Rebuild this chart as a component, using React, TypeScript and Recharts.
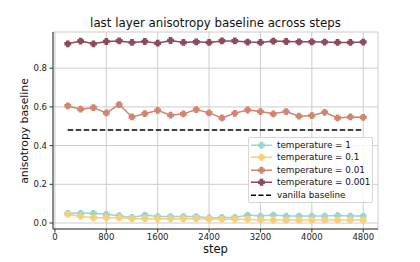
import React from "react"
import { CartesianGrid, Line, LineChart, XAxis, YAxis } from "recharts"

const steps = [
  200, 400, 600, 800, 1000, 1200, 1400, 1600, 1800, 2000, 2200, 2400,
  2600, 2800, 3000, 3200, 3400, 3600, 3800, 4000, 4200, 4400, 4600, 4800,
]
const temp1 = [
  0.05, 0.05, 0.05, 0.045, 0.038, 0.029, 0.041, 0.033, 0.033, 0.033, 0.033, 0.026,
  0.029, 0.029, 0.041, 0.036, 0.041, 0.036, 0.036, 0.036, 0.036, 0.039, 0.036, 0.036,
]
const temp01 = [
  0.045, 0.034, 0.027, 0.027, 0.027, 0.022, 0.022, 0.022, 0.022, 0.022, 0.022, 0.02,
  0.019, 0.019, 0.019, 0.016, 0.015, 0.015, 0.015, 0.015, 0.015, 0.015, 0.015, 0.015,
]
const temp001 = [
  0.605, 0.588, 0.596, 0.569, 0.612, 0.548, 0.565, 0.582, 0.557, 0.564, 0.586, 0.569,
  0.543, 0.567, 0.584, 0.576, 0.564, 0.576, 0.552, 0.555, 0.572, 0.543, 0.548, 0.546,
]
const temp0001 = [
  0.926, 0.94, 0.926, 0.938, 0.941, 0.933, 0.938, 0.929, 0.943, 0.933, 0.936, 0.933,
  0.941, 0.941, 0.935, 0.933, 0.94, 0.938, 0.936, 0.936, 0.935, 0.933, 0.933, 0.935,
]
const vanillaBaseline = 0.48

const xTicks = [0, 800, 1600, 2400, 3200, 4000, 4800]
const yTicks = [0, 0.2, 0.4, 0.6, 0.8]

const series = [
  { key: "t1", name: "temperature = 1", color: "#9fd4ca", values: temp1 },
  { key: "t01", name: "temperature = 0.1", color: "#f7cf7b", values: temp01 },
  { key: "t001", name: "temperature = 0.01", color: "#d08571", values: temp001 },
  { key: "t0001", name: "temperature = 0.001", color: "#8d4a5a", values: temp0001 },
]

const data = steps.map((step, i) => {
  const row: Record<string, number> = { step, baseline: vanillaBaseline }
  series.forEach((s) => (row[s.key] = s.values[i]))
  return row
})

const FONT = "'DejaVu Sans', sans-serif"

// filled plus marker, like matplotlib's "P"
function plusPath(cx: number, cy: number, s = 3.4, a = 1.8) {
  return `M${cx - a},${cy - s}L${cx + a},${cy - s}L${cx + a},${cy - a}L${cx + s},${cy - a}L${cx + s},${cy + a}L${cx + a},${cy + a}L${cx + a},${cy + s}L${cx - a},${cy + s}L${cx - a},${cy + a}L${cx - s},${cy + a}L${cx - s},${cy - a}L${cx - a},${cy - a}Z`
}

const makeDot = (color: string) => (props: any) => {
  const { cx, cy, index } = props
  if (cx == null || cy == null) return <g key={index} />
  return <path key={index} d={plusPath(cx, cy)} fill={color} stroke="none" />
}

function LegendBox() {
  const rows = [...series.map((s) => ({ name: s.name, color: s.color, dashed: false })), { name: "vanilla baseline", color: "#000", dashed: true }]
  return (
    <div
      style={{
        position: "absolute",
        left: 248,
        top: 137,
        width: 125,
        height: 66,
        boxSizing: "border-box",
        border: "1px solid #d6d6d6",
        borderRadius: 2,
        background: "rgba(255,255,255,0.85)",
        paddingTop: 0.5,
        fontFamily: FONT,
        fontSize: 8.8,
        color: "#111",
      }}
    >
      {rows.map((r) => (
        <div key={r.name} style={{ height: 12.5, display: "flex", alignItems: "center" }}>
          <svg width={27} height={12.5} style={{ flex: "none" }}>
            <line
              x1={2}
              x2={23}
              y1={6.25}
              y2={6.25}
              stroke={r.color}
              strokeWidth={1.5}
              strokeDasharray={r.dashed ? "5 2.5" : undefined}
            />
            {!r.dashed && <path d={plusPath(12.5, 6.25)} fill={r.color} />}
          </svg>
          <span style={{ marginLeft: 1, whiteSpace: "nowrap" }}>{r.name}</span>
        </div>
      ))}
    </div>
  )
}

export default function App() {
  const tickStyle = { fontSize: 8.5, fill: "#222", fontFamily: FONT }
  return (
    <div style={{ position: "absolute", left: 0, top: 0, width: 420, height: 262, background: "#fff", fontFamily: FONT }}>
      <LineChart width={420} height={262} data={data} margin={{ top: 32, right: 42, left: 23, bottom: 13 }}>
        <CartesianGrid stroke="#cccccc" strokeWidth={1} />
        <XAxis
          dataKey="step"
          type="number"
          domain={[-30, 5030]}
          ticks={xTicks}
          height={20}
          tick={tickStyle}
          tickSize={3.5}
          tickMargin={1.5}
          stroke="#333"
          interval={0}
        />
        <XAxis xAxisId="top" orientation="top" dataKey="step" type="number" domain={[-30, 5030]} height={0} tick={false} tickLine={false} stroke="#333" />
        <YAxis
          type="number"
          domain={[-0.031, 0.987]}
          ticks={yTicks}
          width={30}
          tick={tickStyle}
          tickSize={3.5}
          tickMargin={2.5}
          tickFormatter={(v: number) => v.toFixed(1)}
          stroke="#333"
          interval={0}
        />
        <YAxis yAxisId="right" orientation="right" domain={[-0.031, 0.987]} width={0} tick={false} tickLine={false} stroke="#333" />
        {series.map((s) => (
          <Line
            key={s.key}
            dataKey={s.key}
            name={s.name}
            stroke={s.color}
            strokeWidth={1.5}
            dot={makeDot(s.color)}
            activeDot={false}
            isAnimationActive={false}
            type="linear"
          />
        ))}
        <Line
          dataKey="baseline"
          name="vanilla baseline"
          stroke="#000"
          strokeWidth={1.5}
          strokeDasharray="5.5 2.5"
          dot={false}
          activeDot={false}
          isAnimationActive={false}
          type="linear"
        />
      </LineChart>
      <div
        style={{
          position: "absolute",
          left: 53,
          width: 325,
          top: 15.5,
          lineHeight: "14px",
          textAlign: "center",
          fontSize: 11.8,
          color: "#111",
          whiteSpace: "nowrap",
        }}
      >
        last layer anisotropy baseline across steps
      </div>
      <div
        style={{
          position: "absolute",
          left: 53,
          width: 325,
          top: 241.5,
          lineHeight: "14px",
          textAlign: "center",
          fontSize: 11.5,
          color: "#111",
        }}
      >
        step
      </div>
      <div
        style={{
          position: "absolute",
          left: 25 - 100,
          top: 131 - 7,
          width: 200,
          lineHeight: "14px",
          textAlign: "center",
          fontSize: 10.8,
          color: "#111",
          transform: "rotate(-90deg)",
          whiteSpace: "nowrap",
        }}
      >
        anisotropy baseline
      </div>
      <LegendBox />
    </div>
  )
}
